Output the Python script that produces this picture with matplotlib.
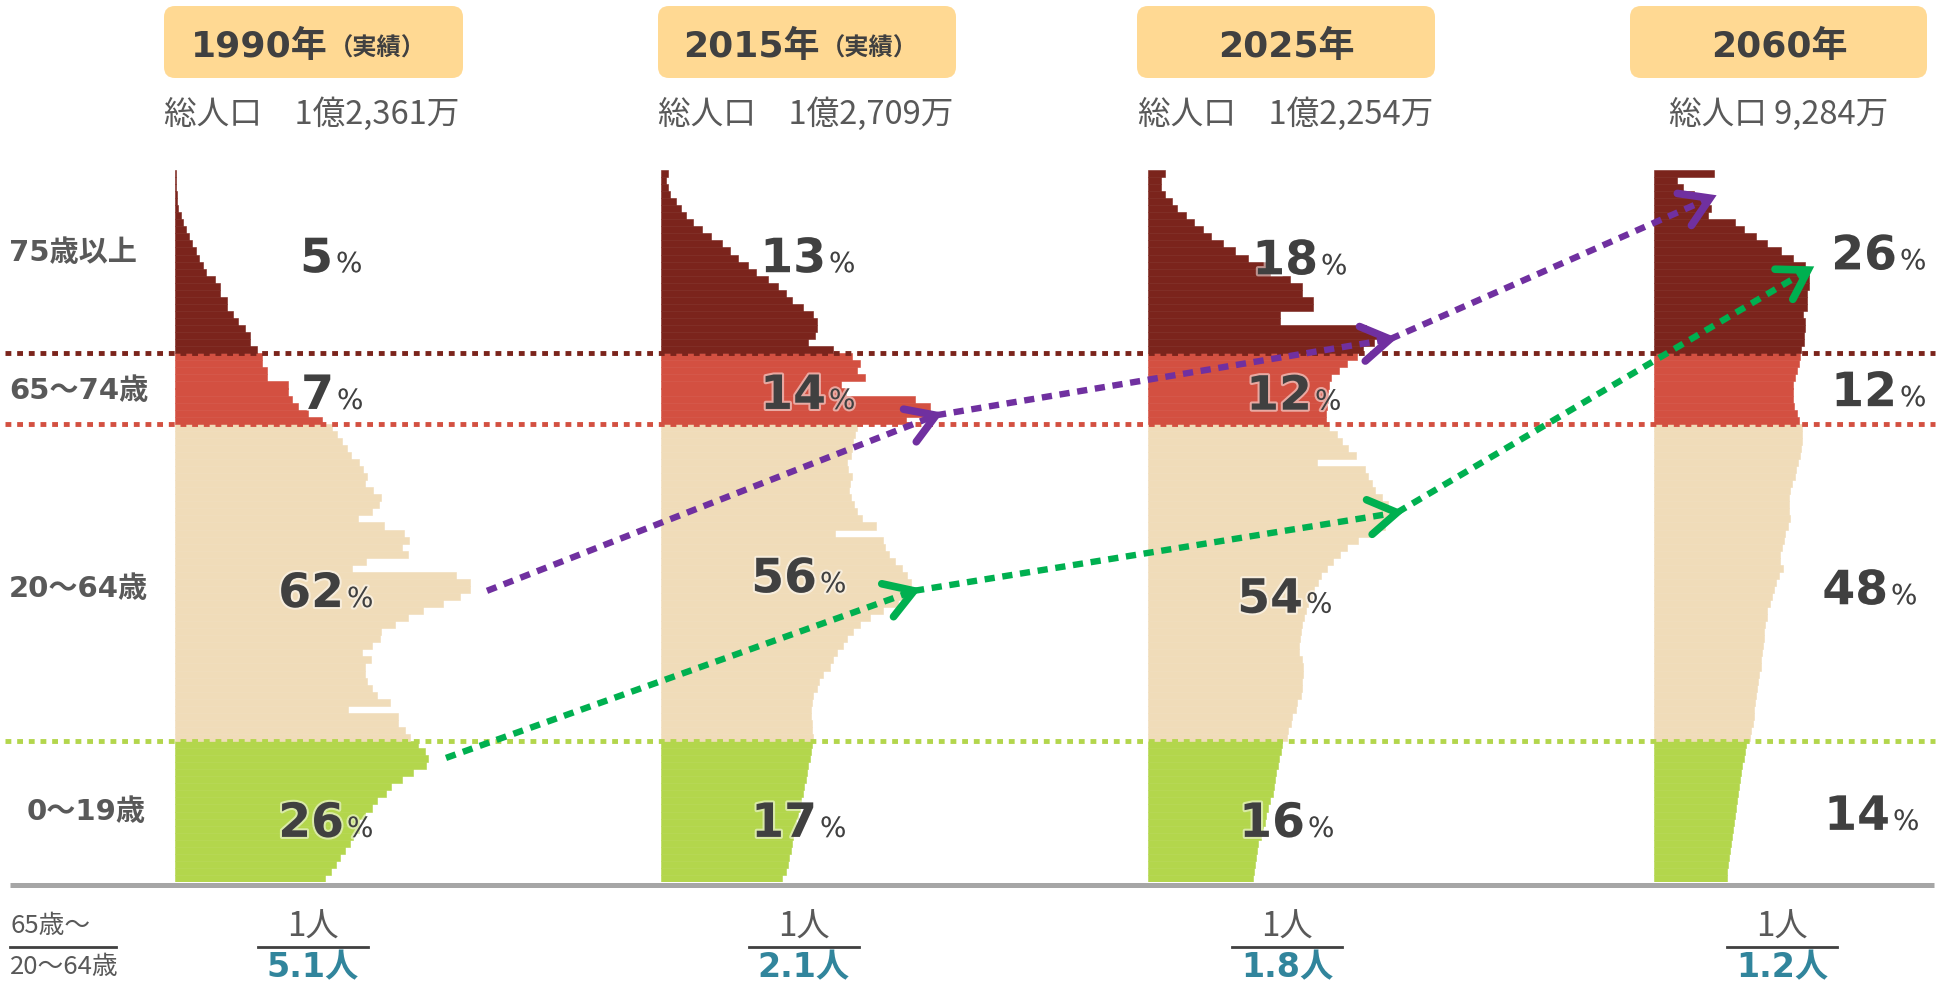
import numpy as np
import matplotlib
matplotlib.use("Agg")
import matplotlib.pyplot as plt
import matplotlib.patheffects as pe
from matplotlib.patches import FancyBboxPatch
from matplotlib.lines import Line2D
from matplotlib.transforms import IdentityTransform

plt.rcParams['font.family'] = ['DejaVu Sans', 'Noto Sans CJK JP']

# ---------------------------------------------------------------- data
years = ['1990年', '2015年', '2025年', '2060年']
year_notes = ['（実績）', '（実績）', '', '']
total_population = ['総人口　1億2,361万', '総人口　1億2,709万',
                    '総人口　1億2,254万', '総人口 9,284万']
group_names = ['0～19歳', '20～64歳', '65～74歳', '75歳以上']
group_edges = [20, 65, 75]

share_1990 = [26, 62, 7, 5]
share_2015 = [17, 56, 14, 13]
share_2025 = [16, 54, 12, 18]
share_2060 = [14, 48, 12, 26]

elderly_ratio = ['5.1人', '2.1人', '1.8人', '1.2人']

ages = np.arange(0, 101)          # 100 = 100歳以上

# bar lengths per single year of age (age 0 -> 100), relative population
pop_1990 = ([150, 156, 161, 165, 170, 175, 178, 184, 184, 190, 197, 202, 211, 216, 227, 238, 251, 253, 250, 243]
            + [235, 230, 223, 223, 173, 215, 202, 197, 192, 190, 190, 196, 187, 197, 205,
               206, 220, 233, 248, 268, 285, 295, 295, 281, 177, 191, 233, 227, 234, 229,
               209, 183, 197, 204, 206, 198, 190, 192, 188, 184, 176, 172, 167, 162, 157]
            + [147, 133, 123, 117, 113, 113, 92, 92, 87, 87]
            + [82, 75, 75, 70, 63, 58, 52, 52, 45, 45, 40, 31, 28, 24, 21, 17, 14, 11, 8, 6,
               3, 2, 1.5, 1, 1, 1])
pop_2015 = ([121, 125, 127, 128, 130, 131, 132, 134, 135, 137, 139, 140, 142, 143, 145, 146, 147, 149, 150, 151]
            + [152, 151, 151, 150, 150, 151, 152, 156, 158, 162, 169, 172, 176, 182, 186,
               192, 199, 209, 222, 237, 243, 250, 250, 246, 241, 234, 228, 224, 222, 174,
               215, 201, 196, 193, 190, 188, 189, 191, 187, 186, 190, 191, 192, 194, 196]
            + [245, 269, 269, 254, 185, 180, 204, 196, 199, 191]
            + [172, 147, 154, 156, 156, 152, 142, 131, 125, 117, 107, 95, 87, 77, 69, 61, 50,
               41, 32, 25, 20, 15, 9, 7, 5, 7])
pop_2025 = ([105, 106, 107, 108, 109, 110, 113, 115, 117, 118, 120, 122, 125, 126, 127, 128, 130, 131, 133, 134]
            + [139, 140, 143, 144, 148, 149, 153, 154, 154, 155, 155, 154, 151, 151, 152,
               153, 154, 156, 158, 160, 164, 166, 170, 173, 179, 185, 192, 199, 210, 222,
               237, 241, 243, 240, 234, 227, 224, 220, 217, 169, 208, 200, 194, 189, 181]
            + [178, 178, 179, 180, 180, 181, 183, 191, 199, 209]
            + [215, 226, 234, 218, 132, 132, 165, 165, 154, 154, 142, 122, 122, 100, 87, 75,
               63, 55, 46, 38, 29, 24, 17, 13, 13, 17])
pop_2060 = ([73, 73, 74, 75, 76, 77, 78, 79, 80, 81, 82, 83, 84, 85, 86, 87, 88, 90, 91, 92]
            + [96, 97, 99, 100, 100, 101, 102, 103, 104, 105, 107, 107, 108, 109, 110,
               110, 111, 113, 113, 116, 118, 120, 122, 125, 129, 126, 126, 128, 130, 131,
               134, 136, 135, 135, 135, 136, 138, 141, 142, 144, 146, 147, 148, 148, 148]
            + [145, 143, 140, 139, 139, 139, 141, 143, 145, 146]
            + [147, 150, 150, 151, 151, 149, 153, 153, 153, 155, 155, 155, 151, 139, 127, 113,
               102, 90, 81, 54, 57, 55, 40, 29, 23, 60])

pops = [pop_1990, pop_2015, pop_2025, pop_2060]
shares = [share_1990, share_2015, share_2025, share_2060]

# cohort arrows: (panel, bar length, age)
boomer_path = [(0, 312, 41.3), (1, 275, 66.2), (2, 242, 77.0), (3, 56, 97.0)]
second_boomer_path = [(0, 271, 17.6), (1, 253, 41.3), (2, 249, 52.4), (3, 154, 86.8)]

# ---------------------------------------------------------------- style / layout
C_DARK = '#7B241C'
C_RED = '#D35041'
C_TAN = '#F0DCB9'
C_GREEN = '#B3D64C'
C_TEXT = '#404040'
C_GRAY = '#595959'
C_TEAL = '#31859C'


def age_color(a):
    if a < 20:
        return C_GREEN
    if a < 65:
        return C_TAN
    if a < 75:
        return C_RED
    return C_DARK


W, H = 1942, 990
PX_PER_AGE = 7.05
Y0 = 882
TOP_AGE = 101
AX_W = 300
panel_left = [175, 661, 1148, 1654]

fig = plt.figure(figsize=(W / 100, H / 100), dpi=100)
fig.patch.set_facecolor('white')

ax_bottom = (H - Y0) / H
ax_height = TOP_AGE * PX_PER_AGE / H

glow = [pe.withStroke(linewidth=3, foreground='white', alpha=0.5)]

# percent label anchors (bar-length units, age baseline) per panel, order of groups
pct_pos = [
    [(169, 6.4), (169, 39.0), (159, 67.1), (158, 86.5)],
    [(156, 6.4), (156, 41.1), (165, 67.1), (165, 86.5)],
    [(157, 6.4), (155, 38.2), (164, 67.0), (170, 86.2)],
    [(236, 7.4), (234, 39.4), (243, 67.5), (243, 86.9)],
]

axes = []
for i, left in enumerate(panel_left):
    ax = fig.add_axes([left / W, ax_bottom, AX_W / W, ax_height])
    ax.set_xlim(0, AX_W)
    ax.set_ylim(0, TOP_AGE)
    ax.axis('off')
    ax.patch.set_alpha(0)
    cols = [age_color(a) for a in ages]
    ax.barh(ages, pops[i], height=1.0, align='edge', color=cols,
            edgecolor=cols, linewidth=0.4)
    for g in range(4):
        x, a = pct_pos[i][g]
        ax.text(x, a, str(shares[i][g]), ha='right', va='baseline', fontsize=34,
                weight='bold', color=C_TEXT, path_effects=glow, clip_on=False)
        ax.text(x + 3, a, '%', ha='left', va='baseline', fontsize=20,
                color=C_TEXT, path_effects=glow, clip_on=False)
    axes.append(ax)

# overlay axes for boundaries and cohort arrows
ov = fig.add_axes([0, ax_bottom, 1, ax_height])
ov.set_xlim(0, W)
ov.set_ylim(0, TOP_AGE)
ov.axis('off')
ov.patch.set_alpha(0)

for edge, col in zip(group_edges, [C_GREEN, C_RED, C_DARK]):
    ov.plot([5, 1935], [edge, edge], color=col, lw=3.5,
            linestyle=(0, (1.2, 1.2)), dash_capstyle='butt')


def rot(v, t):
    return np.array([v[0] * np.cos(t) - v[1] * np.sin(t),
                     v[0] * np.sin(t) + v[1] * np.cos(t)])


def cohort_arrow(path, color):
    disp = [axes[p].transData.transform((x, a)) for p, x, a in path]
    inv = ov.transData.inverted()
    for p, q in zip(disp[:-1], disp[1:]):
        seg = inv.transform(np.array([p, q]))
        ov.plot(seg[:, 0], seg[:, 1], color=color, lw=4.6,
                linestyle=(0, (1.6, 1.2)), dash_capstyle='butt')
        d = (q - p) / np.hypot(*(q - p))
        L, t = 33, np.deg2rad(32)
        head = np.array([q - L * rot(d, t), q, q - L * rot(d, -t)])
        h = inv.transform(head)
        ov.plot(h[:, 0], h[:, 1], color=color, lw=5.5,
                solid_capstyle='round', solid_joinstyle='miter')


cohort_arrow(boomer_path, '#7030A0')
cohort_arrow(second_boomer_path, '#00B050')


def ftext(x, y, s, **kw):
    return fig.text(x / W, 1 - y / H, s, **kw)


# header boxes
box_x = [(164, 463), (658, 956), (1137, 1435), (1630, 1927)]
for x0, x1 in box_x:
    fig.add_artist(FancyBboxPatch((x0, H - 78), x1 - x0, 72,
                                  boxstyle='round,pad=0,rounding_size=11',
                                  transform=IdentityTransform(),
                                  facecolor='#FFD993', edgecolor='none'))

header_anchor = [328, 820, 1286, 1779]
for i in range(4):
    if year_notes[i]:
        ftext(header_anchor[i], 57, years[i], ha='right', va='baseline',
              fontsize=26, weight='bold', color=C_TEXT)
        ftext(header_anchor[i] + 1, 56, year_notes[i], ha='left', va='baseline',
              fontsize=17.5, weight='bold', color=C_TEXT, family=['Noto Sans CJK JP'])
    else:
        ftext(header_anchor[i], 57, years[i], ha='center', va='baseline',
              fontsize=26, weight='bold', color=C_TEXT)

total_center = [312, 806, 1286, 1779]
for i in range(4):
    ftext(total_center[i], 114, total_population[i], ha='center', va='center',
          fontsize=23.5, color=C_GRAY, family=['Noto Sans CJK JP'])

# age group labels on the left
label_xy = {'75歳以上': (9, 253), '65～74歳': (9, 391), '20～64歳': (9, 589), '0～19歳': (27, 812)}
for name in group_names:
    x, y = label_xy[name]
    ftext(x, y, name, ha='left', va='center', fontsize=21, weight='bold', color=C_GRAY)

# ground line
fig.add_artist(Line2D([10 / W, 1934 / W], [1 - 885 / H] * 2, transform=fig.transFigure,
                      color='#A6A6A6', lw=3.6, solid_capstyle='butt'))

# ratio section
ftext(10, 926, '65歳～', ha='left', va='center', fontsize=18.5, color=C_GRAY,
      family=['Noto Sans CJK JP'])
fig.add_artist(Line2D([10 / W, 116 / W], [1 - 947 / H] * 2, transform=fig.transFigure,
                      color=C_TEXT, lw=2))
ftext(10, 967, '20～64歳', ha='left', va='center', fontsize=18.5, color=C_GRAY,
      family=['Noto Sans CJK JP'])

ratio_center = [313, 804, 1287, 1782]
for c, r in zip(ratio_center, elderly_ratio):
    ftext(c, 927, '1人', ha='center', va='center', fontsize=24, color=C_GRAY,
          family=['Noto Sans CJK JP'])
    fig.add_artist(Line2D([(c - 55) / W, (c + 55) / W], [1 - 947 / H] * 2,
                          transform=fig.transFigure, color=C_TEXT, lw=2))
    ftext(c, 968, r, ha='center', va='center', fontsize=24, weight='bold', color=C_TEAL)

fig.savefig('out.png', dpi=100, facecolor='white')
